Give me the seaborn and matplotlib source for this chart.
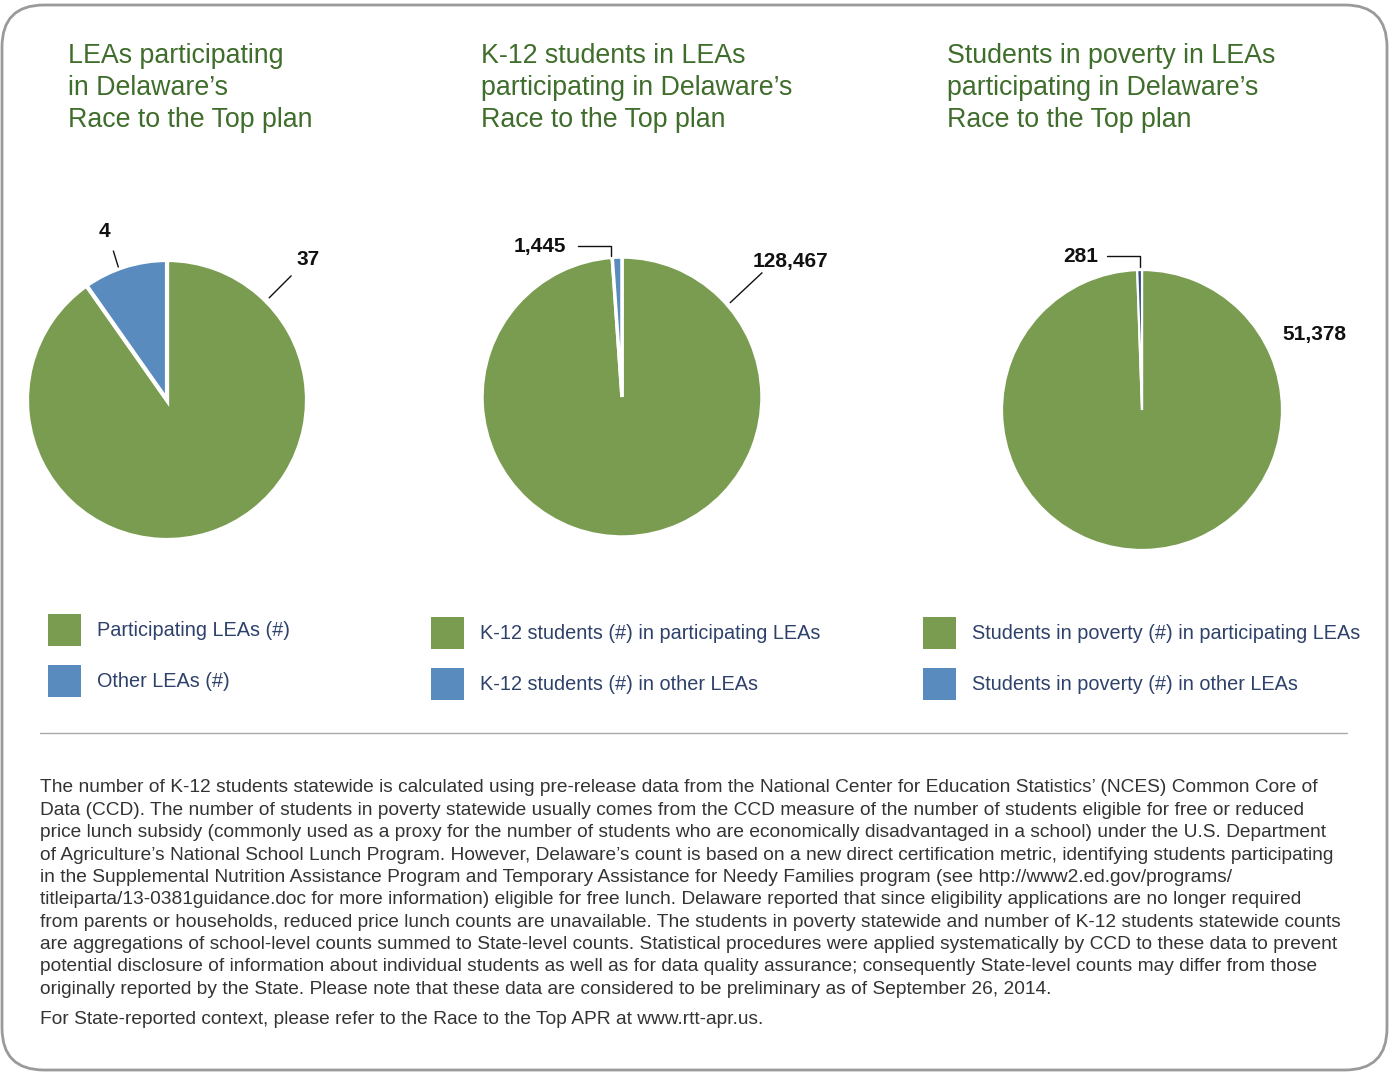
import matplotlib
matplotlib.use("Agg")
import matplotlib.pyplot as plt
import seaborn as sns
from matplotlib.patches import FancyBboxPatch, Patch
from matplotlib.lines import Line2D

# ---- data ----
titles = [
    "LEAs participating\nin Delaware\u2019s\nRace to the Top plan",
    "K-12 students in LEAs\nparticipating in Delaware\u2019s\nRace to the Top plan",
    "Students in poverty in LEAs\nparticipating in Delaware\u2019s\nRace to the Top plan",
]
participating = [37, 128467, 51378]
other = [4, 1445, 281]
legend_participating = [
    "Participating LEAs (#)",
    "K-12 students (#) in participating LEAs",
    "Students in poverty (#) in participating LEAs",
]
legend_other = [
    "Other LEAs (#)",
    "K-12 students (#) in other LEAs",
    "Students in poverty (#) in other LEAs",
]
footnote_lines = [
    "The number of K-12 students statewide is calculated using pre-release data from the National Center for Education Statistics\u2019 (NCES) Common Core of",
    "Data (CCD). The number of students in poverty statewide usually comes from the CCD measure of the number of students eligible for free or reduced",
    "price lunch subsidy (commonly used as a proxy for the number of students who are economically disadvantaged in a school) under the U.S. Department",
    "of Agriculture\u2019s National School Lunch Program. However, Delaware\u2019s count is based on a new direct certification metric, identifying students participating",
    "in the Supplemental Nutrition Assistance Program and Temporary Assistance for Needy Families program (see http://www2.ed.gov/programs/",
    "titleiparta/13-0381guidance.doc for more information) eligible for free lunch. Delaware reported that since eligibility applications are no longer required",
    "from parents or households, reduced price lunch counts are unavailable. The students in poverty statewide and number of K-12 students statewide counts",
    "are aggregations of school-level counts summed to State-level counts. Statistical procedures were applied systematically by CCD to these data to prevent",
    "potential disclosure of information about individual students as well as for data quality assurance; consequently State-level counts may differ from those",
    "originally reported by the State. Please note that these data are considered to be preliminary as of September 26, 2014.",
]
context_line = "For State-reported context, please refer to the Race to the Top APR at www.rtt-apr.us."

# ---- style ----
sns.set_style("white")
plt.rcParams['font.family'] = ['Liberation Sans', 'DejaVu Sans']

GREEN = "#7a9c51"
BLUE = "#5a8bbf"
NAVY = "#2b4c85"
TITLE_GREEN = "#3f6d2b"
LEGEND_TXT = "#2e416b"
small_colors = [BLUE, BLUE, NAVY]

W, H = 1389, 1072
fig = plt.figure(figsize=(W / 100, H / 100), dpi=100)
fig.patch.set_facecolor("white")

# layout (pixels)
R = 140
HALF = 200
pie_centers = [(167, 400), (622, 397), (1142, 410)]
edge_widths = [3, 2.5, 1.6]
title_x = [68, 481, 947]
legend_pos = [(48, 614), (431, 617), (923, 617)]

# label layout in pie-radius units: (text x, text y, ha, leader points)
label_layout = [
    [(1.007, 1.007, "center", [(0.73, 0.73), (0.887, 0.887)]),
     (-0.447, 1.206, "center", [(-0.348, 0.95), (-0.383, 1.064)])],
    [(1.206, 0.965, "center", [(0.773, 0.674), (1.0, 0.887)]),
     (-0.40, 1.078, "right", [(-0.078, 1.007), (-0.078, 1.078), (-0.312, 1.078)])],
    [(1.234, 0.539, "center", []),
     (-0.31, 1.099, "right", [(-0.014, 1.02), (-0.014, 1.099), (-0.248, 1.099)])],
]

L = HALF / R
for i in range(3):
    cx, cy = pie_centers[i]
    ax = fig.add_axes([(cx - HALF) / W, (H - cy - HALF) / H, 2 * HALF / W, 2 * HALF / H])
    vals = [participating[i], other[i]]
    ax.pie(vals, colors=[GREEN, small_colors[i]], startangle=90, counterclock=False,
           wedgeprops=dict(edgecolor="white", linewidth=edge_widths[i]))
    ax.set_xlim(-L, L)
    ax.set_ylim(-L, L)
    ax.set_aspect("equal")
    ax.axis("off")
    for v, (tx, ty, ha, pts) in zip(vals, label_layout[i]):
        ax.text(tx, ty, f"{v:,}", ha=ha, va="center", fontsize=15,
                fontweight="bold", color="#111111")
        if pts:
            ax.plot([p[0] for p in pts], [p[1] for p in pts], color="#111111",
                    lw=1.0, clip_on=False)

    fig.text(title_x[i] / W, 1 - 43 / H, titles[i], ha="left", va="top",
             fontsize=19.3, color=TITLE_GREEN, linespacing=1.31)

    lx, ly = legend_pos[i]
    handles = [Patch(facecolor=GREEN, edgecolor="none"), Patch(facecolor=BLUE, edgecolor="none")]
    fig.legend(handles, [legend_participating[i], legend_other[i]], loc="upper left",
               bbox_to_anchor=(lx / W, 1 - ly / H), frameon=False, fontsize=14.3,
               handlelength=1.66, handleheight=2.12, handletextpad=0.8,
               labelspacing=0.95, borderpad=0, borderaxespad=0, labelcolor=LEGEND_TXT)

# separator
fig.add_artist(Line2D([40 / W, 1347 / W], [1 - 733 / H, 1 - 733 / H],
                      color="#aaaaaa", lw=1.0))

# footnote: fit longest line to the reference width
renderer = fig.canvas.get_renderer()
probe = fig.text(0, 0, footnote_lines[3], fontsize=12)
w = probe.get_window_extent(renderer).width
probe.remove()
fs = 12 * 1303 / w
for k, line in enumerate(footnote_lines):
    fig.text(40 / W, 1 - (788 + k * 22.35) / H, line, ha="left", va="center",
             fontsize=fs, color="#333333")
fig.text(40 / W, 1 - 1020 / H, context_line, ha="left", va="center",
         fontsize=fs, color="#333333")

# rounded frame
frame = FancyBboxPatch((0.02, 0.02), 13.85, 10.65,
                       boxstyle="round,pad=0,rounding_size=0.42",
                       transform=fig.dpi_scale_trans, fill=False,
                       edgecolor="#9a9a9a", lw=2.0)
fig.add_artist(frame)

fig.savefig("out.png", dpi=100)
